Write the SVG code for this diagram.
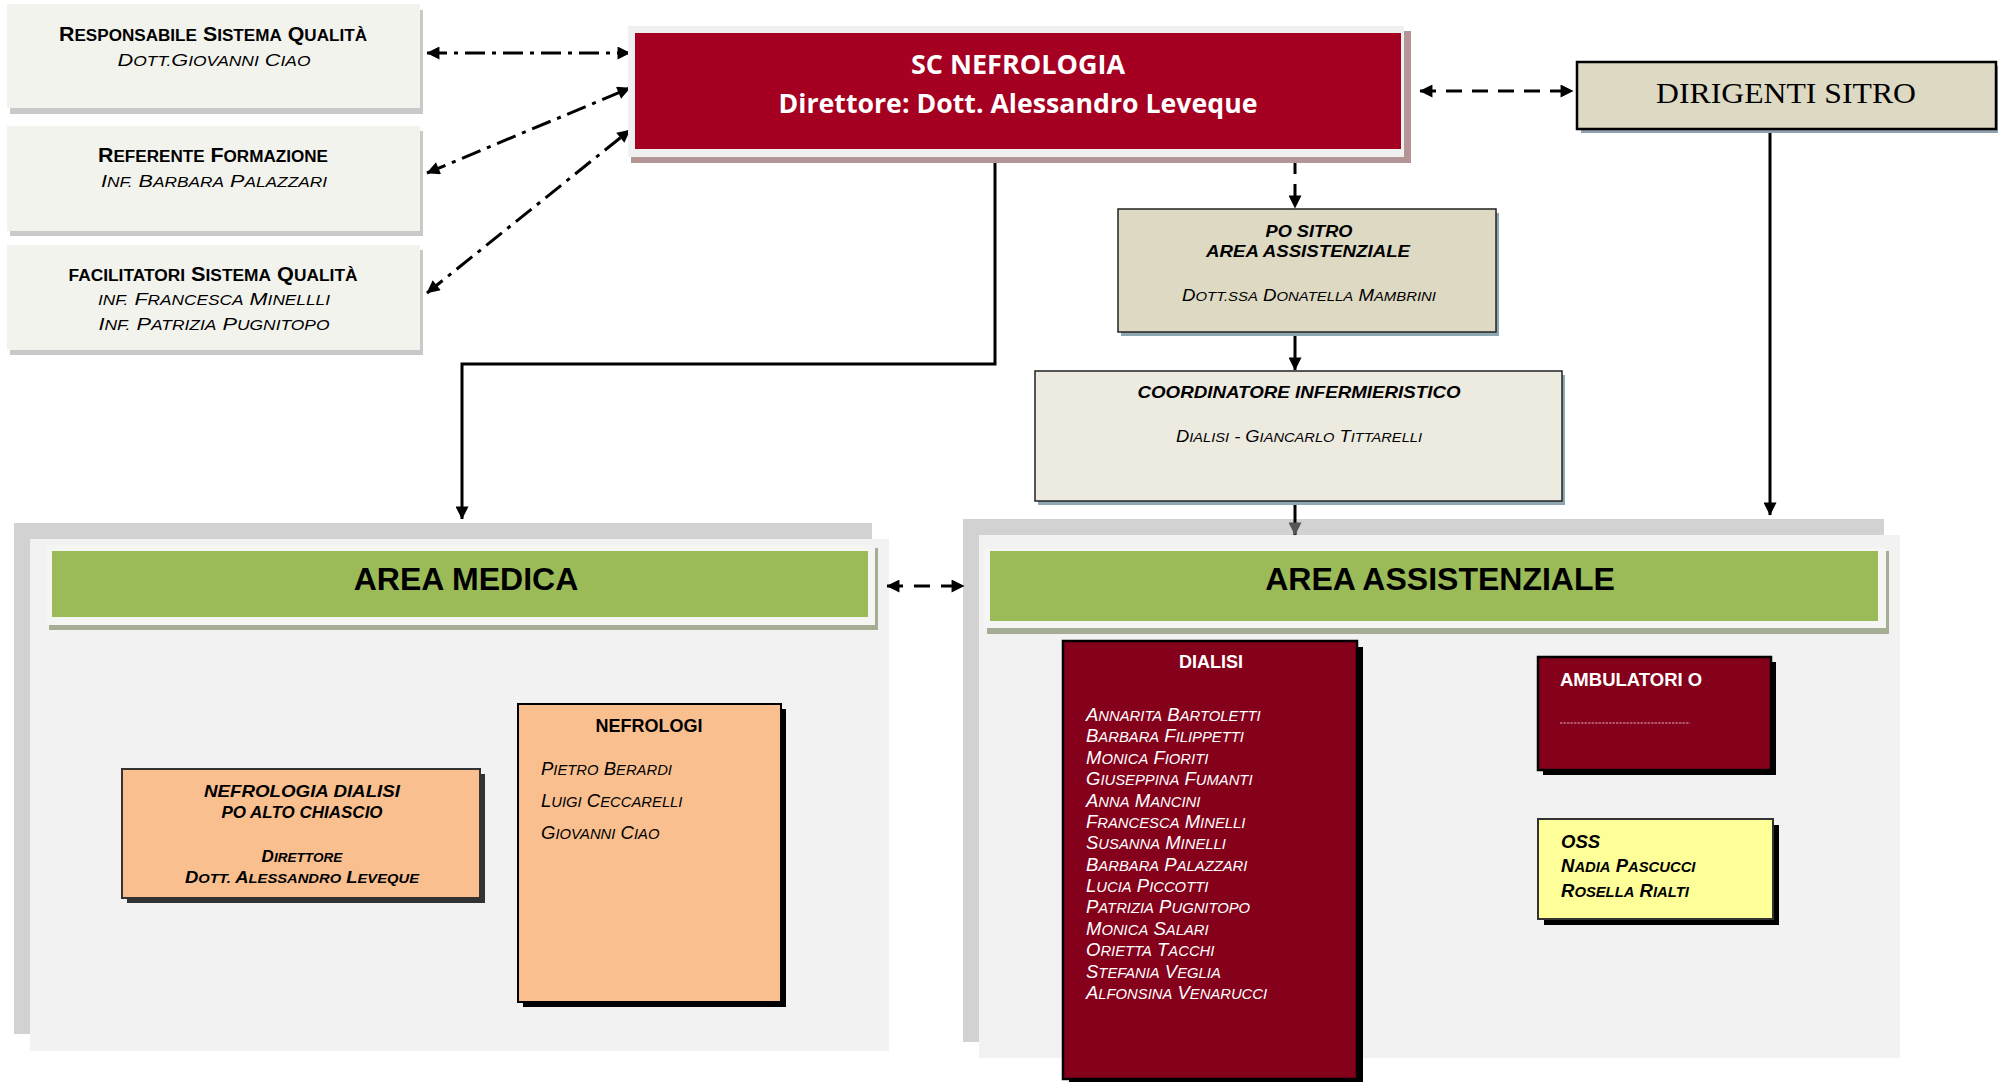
<svg xmlns="http://www.w3.org/2000/svg" width="2002" height="1082" viewBox="0 0 2002 1082">
<defs>
<style>
text{font-family:"Liberation Sans",Arial,sans-serif;}
.s{font-size:80%;}
.c{text-anchor:middle;}
.b{font-weight:bold;}
.i{font-style:italic;}
.w{fill:#fff;}
.ln{fill:none;stroke:#000;stroke-width:3;}
.lbox{fill:#f3f3ee;}
.lsh{fill:#c9c9c9;}
.peach{fill:#f9bf8f;}
.wine{fill:#85001a;stroke:#000;stroke-width:2.5;}
.os{font-family:"Open Sans",sans-serif;}
</style>
<marker id="ah" viewBox="0 0 12 12" refX="11.5" refY="6" markerWidth="14" markerHeight="13" markerUnits="userSpaceOnUse" orient="auto-start-reverse"><path d="M0,0 L12,6 L0,12 z" fill="#000"/></marker>
<marker id="ahg" viewBox="0 0 12 12" refX="11.5" refY="6" markerWidth="14" markerHeight="13" markerUnits="userSpaceOnUse" orient="auto"><path d="M0,0 L12,6 L0,12 z" fill="#555"/></marker>
</defs>
<rect width="2002" height="1082" fill="#fff"/>

<!-- Area backgrounds -->
<g id="area-medica">
<rect x="14" y="523" width="858" height="511" fill="#d2d2d2"/>
<rect x="30" y="539" width="859" height="512" fill="#f2f2f2"/>
<rect x="49" y="548" width="829" height="82" fill="#a5ad95"/>
<rect x="46" y="545" width="829" height="80" fill="#f5f5f3"/>
<rect x="52" y="551" width="816" height="66" fill="#9bbb59"/>
<text x="466" y="590" class="c b" font-size="32">AREA MEDICA</text>
</g>
<g id="area-assistenziale">
<rect x="963" y="519" width="921" height="523" fill="#d2d2d2"/>
<rect x="979" y="535" width="921" height="523" fill="#f2f2f2"/>
<rect x="987" y="551" width="902" height="83" fill="#a5ad95"/>
<rect x="984" y="548" width="902" height="80" fill="#f5f5f3"/>
<rect x="990" y="551" width="888" height="70" fill="#9bbb59"/>
<text x="1440" y="590" class="c b" font-size="32">AREA ASSISTENZIALE</text>
</g>

<!-- Connectors -->
<g id="connectors">
<line x1="427" y1="53" x2="630" y2="53" class="ln" stroke-width="3.5" stroke-dasharray="20 7 4 7" marker-start="url(#ah)" marker-end="url(#ah)"/>
<line x1="427" y1="173" x2="630" y2="88" class="ln" stroke-width="3.5" stroke-dasharray="20 7 4 7" marker-start="url(#ah)" marker-end="url(#ah)"/>
<line x1="427" y1="293" x2="630" y2="130" class="ln" stroke-width="3.5" stroke-dasharray="20 7 4 7" marker-start="url(#ah)" marker-end="url(#ah)"/>
<line x1="1420" y1="91" x2="1573" y2="91" class="ln" stroke-width="3.5" stroke-dasharray="16 10" marker-start="url(#ah)" marker-end="url(#ah)"/>
<polyline points="995,157 995,364 462,364 462,519" class="ln" marker-end="url(#ah)"/>
<line x1="1295" y1="160" x2="1295" y2="208" class="ln" stroke-dasharray="14 10" marker-end="url(#ah)"/>
<line x1="1295" y1="332" x2="1295" y2="370" class="ln" marker-end="url(#ah)"/>
<line x1="1295" y1="501" x2="1295" y2="535" class="ln" stroke="#222" marker-end="url(#ahg)"/>
<line x1="1770" y1="129" x2="1770" y2="515" class="ln" marker-end="url(#ah)"/>
<line x1="887" y1="586" x2="964" y2="586" class="ln" stroke-width="3.5" stroke-dasharray="16 11" marker-start="url(#ah)" marker-end="url(#ah)"/>
</g>

<!-- Left staff boxes -->
<g id="resp-qualita">
<rect x="10" y="10" width="413" height="104" class="lsh"/>
<rect x="7" y="4" width="413" height="104" class="lbox"/>
<text x="213" y="41" class="c b" font-size="19.5" textLength="308" lengthAdjust="spacingAndGlyphs">R<tspan class="s">ESPONSABILE</tspan> S<tspan class="s">ISTEMA</tspan> Q<tspan class="s">UALITÀ</tspan></text>
<text x="214" y="66" class="c i" font-size="17.2" textLength="193" lengthAdjust="spacingAndGlyphs">D<tspan class="s">OTT.</tspan>G<tspan class="s">IOVANNI</tspan> C<tspan class="s">IAO</tspan></text>
</g>
<g id="ref-formazione">
<rect x="10" y="131" width="413" height="105" class="lsh"/>
<rect x="7" y="126" width="413" height="105" class="lbox"/>
<text x="213" y="162" class="c b" font-size="19.5" textLength="230" lengthAdjust="spacingAndGlyphs">R<tspan class="s">EFERENTE</tspan> F<tspan class="s">ORMAZIONE</tspan></text>
<text x="214" y="187" class="c i" font-size="17.2" textLength="226" lengthAdjust="spacingAndGlyphs">I<tspan class="s">NF.</tspan> B<tspan class="s">ARBARA</tspan> P<tspan class="s">ALAZZARI</tspan></text>
</g>
<g id="facilitatori">
<rect x="10" y="250" width="413" height="105" class="lsh"/>
<rect x="7" y="245" width="413" height="105" class="lbox"/>
<text x="213" y="281" class="c b" font-size="19.5" textLength="289" lengthAdjust="spacingAndGlyphs"><tspan class="s">FACILITATORI</tspan> S<tspan class="s">ISTEMA</tspan> Q<tspan class="s">UALITÀ</tspan></text>
<text x="214" y="305" class="c i" font-size="17.2" textLength="232" lengthAdjust="spacingAndGlyphs"><tspan class="s">INF.</tspan> F<tspan class="s">RANCESCA</tspan> M<tspan class="s">INELLLI</tspan></text>
<text x="214" y="330" class="c i" font-size="17.2" textLength="231" lengthAdjust="spacingAndGlyphs">I<tspan class="s">NF.</tspan> P<tspan class="s">ATRIZIA</tspan> P<tspan class="s">UGNITOPO</tspan></text>
</g>

<!-- Top node -->
<g id="sc-nefrologia">
<rect x="631" y="31" width="780" height="132" fill="#b39595"/>
<rect x="628" y="26" width="776" height="131" fill="#f0f0f0"/>
<rect x="635" y="33" width="766" height="116" fill="#a50021"/>
<text x="1018" y="74" class="c w b os" font-size="27" textLength="214" lengthAdjust="spacingAndGlyphs">SC NEFROLOGIA</text>
<text x="1018" y="113" class="c w b os" font-size="27" textLength="479" lengthAdjust="spacingAndGlyphs">Direttore: Dott. Alessandro Leveque</text>
</g>

<g id="dirigenti-sitro">
<rect x="1581" y="66" width="417" height="67" fill="#8fa0b0"/>
<rect x="1577" y="62" width="419" height="67" fill="#ddd9c3" stroke="#000" stroke-width="2.5"/>
<text x="1786" y="103" class="c" font-size="29" textLength="260" lengthAdjust="spacingAndGlyphs" style="font-family:'Liberation Serif','Times New Roman',serif">DIRIGENTI SITRO</text>
</g>

<g id="po-sitro">
<rect x="1121" y="213" width="378" height="123" fill="#8fa7b0"/>
<rect x="1118" y="209" width="378" height="123" fill="#ddd9c3" stroke="#222" stroke-width="1.5"/>
<text x="1309" y="237" class="c b i" font-size="16.3" textLength="87" lengthAdjust="spacingAndGlyphs">PO SITRO</text>
<text x="1308" y="257" class="c b i" font-size="16.3" textLength="204" lengthAdjust="spacingAndGlyphs">AREA ASSISTENZIALE</text>
<text x="1309" y="301" class="c i" font-size="15.8" textLength="254" lengthAdjust="spacingAndGlyphs">D<tspan class="s">OTT.SSA</tspan> D<tspan class="s">ONATELLA</tspan> M<tspan class="s">AMBRINI</tspan></text>
</g>

<g id="coordinatore">
<rect x="1038" y="375" width="527" height="130" fill="#8fa7b0"/>
<rect x="1035" y="371" width="527" height="130" fill="#edeae0" stroke="#222" stroke-width="1.5"/>
<text x="1299" y="398" class="c b i" font-size="16.3" textLength="323" lengthAdjust="spacingAndGlyphs">COORDINATORE INFERMIERISTICO</text>
<text x="1299" y="442" class="c i" font-size="15.8" textLength="246" lengthAdjust="spacingAndGlyphs">D<tspan class="s">IALISI</tspan> - G<tspan class="s">IANCARLO</tspan> T<tspan class="s">ITTARELLI</tspan></text>
</g>

<!-- Area medica nodes -->
<g id="nefrologia-dialisi">
<rect x="127" y="774" width="358" height="129" fill="#333"/>
<rect x="122" y="769" width="358" height="129" class="peach" stroke="#333" stroke-width="2"/>
<text x="302" y="797" class="c b i" font-size="17" textLength="196" lengthAdjust="spacingAndGlyphs">NEFROLOGIA DIALISI</text>
<text x="302" y="818" class="c b i" font-size="17">PO ALTO CHIASCIO</text>
<text x="302" y="862" class="c b i" font-size="17">D<tspan class="s">IRETTORE</tspan></text>
<text x="302" y="883" class="c b i" font-size="17" textLength="234" lengthAdjust="spacingAndGlyphs">D<tspan class="s">OTT.</tspan> A<tspan class="s">LESSANDRO</tspan> L<tspan class="s">EVEQUE</tspan></text>
</g>

<g id="nefrologi">
<rect x="523" y="709" width="263" height="298" fill="#000"/>
<rect x="518" y="704" width="263" height="298" class="peach" stroke="#000" stroke-width="2"/>
<text x="649" y="732" class="c b" font-size="18">NEFROLOGI</text>
<text x="541" y="775" class="i" font-size="18.5">P<tspan class="s">IETRO</tspan> B<tspan class="s">ERARDI</tspan></text>
<text x="541" y="807" class="i" font-size="18.5">L<tspan class="s">UIGI</tspan> C<tspan class="s">ECCARELLI</tspan></text>
<text x="541" y="839" class="i" font-size="18.5">G<tspan class="s">IOVANNI</tspan> C<tspan class="s">IAO</tspan></text>
</g>

<!-- Area assistenziale nodes -->
<g id="dialisi">
<rect x="1069" y="647" width="294" height="440" fill="#000"/>
<rect x="1063" y="641" width="294" height="438" class="wine"/>
<text x="1211" y="668" class="c b w" font-size="18">DIALISI</text>
<g class="i w" font-size="18.5">
<text x="1086" y="721">A<tspan class="s">NNARITA</tspan> B<tspan class="s">ARTOLETTI</tspan></text>
<text x="1086" y="742.4">B<tspan class="s">ARBARA</tspan> F<tspan class="s">ILIPPETTI</tspan></text>
<text x="1086" y="763.8">M<tspan class="s">ONICA</tspan> F<tspan class="s">IORITI</tspan></text>
<text x="1086" y="785.1">G<tspan class="s">IUSEPPINA</tspan> F<tspan class="s">UMANTI</tspan></text>
<text x="1086" y="806.5">A<tspan class="s">NNA</tspan> M<tspan class="s">ANCINI</tspan></text>
<text x="1086" y="827.9">F<tspan class="s">RANCESCA</tspan> M<tspan class="s">INELLI</tspan></text>
<text x="1086" y="849.3">S<tspan class="s">USANNA</tspan> M<tspan class="s">INELLI</tspan></text>
<text x="1086" y="870.7">B<tspan class="s">ARBARA</tspan> P<tspan class="s">ALAZZARI</tspan></text>
<text x="1086" y="892">L<tspan class="s">UCIA</tspan> P<tspan class="s">ICCOTTI</tspan></text>
<text x="1086" y="913.4">P<tspan class="s">ATRIZIA</tspan> P<tspan class="s">UGNITOPO</tspan></text>
<text x="1086" y="934.8">M<tspan class="s">ONICA</tspan> S<tspan class="s">ALARI</tspan></text>
<text x="1086" y="956.2">O<tspan class="s">RIETTA</tspan> T<tspan class="s">ACCHI</tspan></text>
<text x="1086" y="977.6">S<tspan class="s">TEFANIA</tspan> V<tspan class="s">EGLIA</tspan></text>
<text x="1086" y="999">A<tspan class="s">LFONSINA</tspan> V<tspan class="s">ENARUCCI</tspan></text>
</g>
</g>

<g id="ambulatorio">
<rect x="1543" y="662" width="233" height="113" fill="#000"/>
<rect x="1538" y="657" width="233" height="113" class="wine" stroke-width="3"/>
<text x="1560" y="686" class="b w" font-size="18.5">AMBULATORI O</text>
<line x1="1560" y1="723" x2="1690" y2="723" stroke="#e3a7b0" stroke-width="1" stroke-dasharray="2.5 1"/>
</g>

<g id="oss">
<rect x="1544" y="825" width="235" height="100" fill="#000"/>
<rect x="1538" y="819" width="235" height="100" fill="#ffff99" stroke="#333" stroke-width="2"/>
<text x="1561" y="848" class="b i" font-size="18.5">OSS</text>
<text x="1561" y="872" class="b i" font-size="18.5">N<tspan class="s">ADIA</tspan> P<tspan class="s">ASCUCCI</tspan></text>
<text x="1561" y="897" class="b i" font-size="18.5">R<tspan class="s">OSELLA</tspan> R<tspan class="s">IALTI</tspan></text>
</g>
</svg>
